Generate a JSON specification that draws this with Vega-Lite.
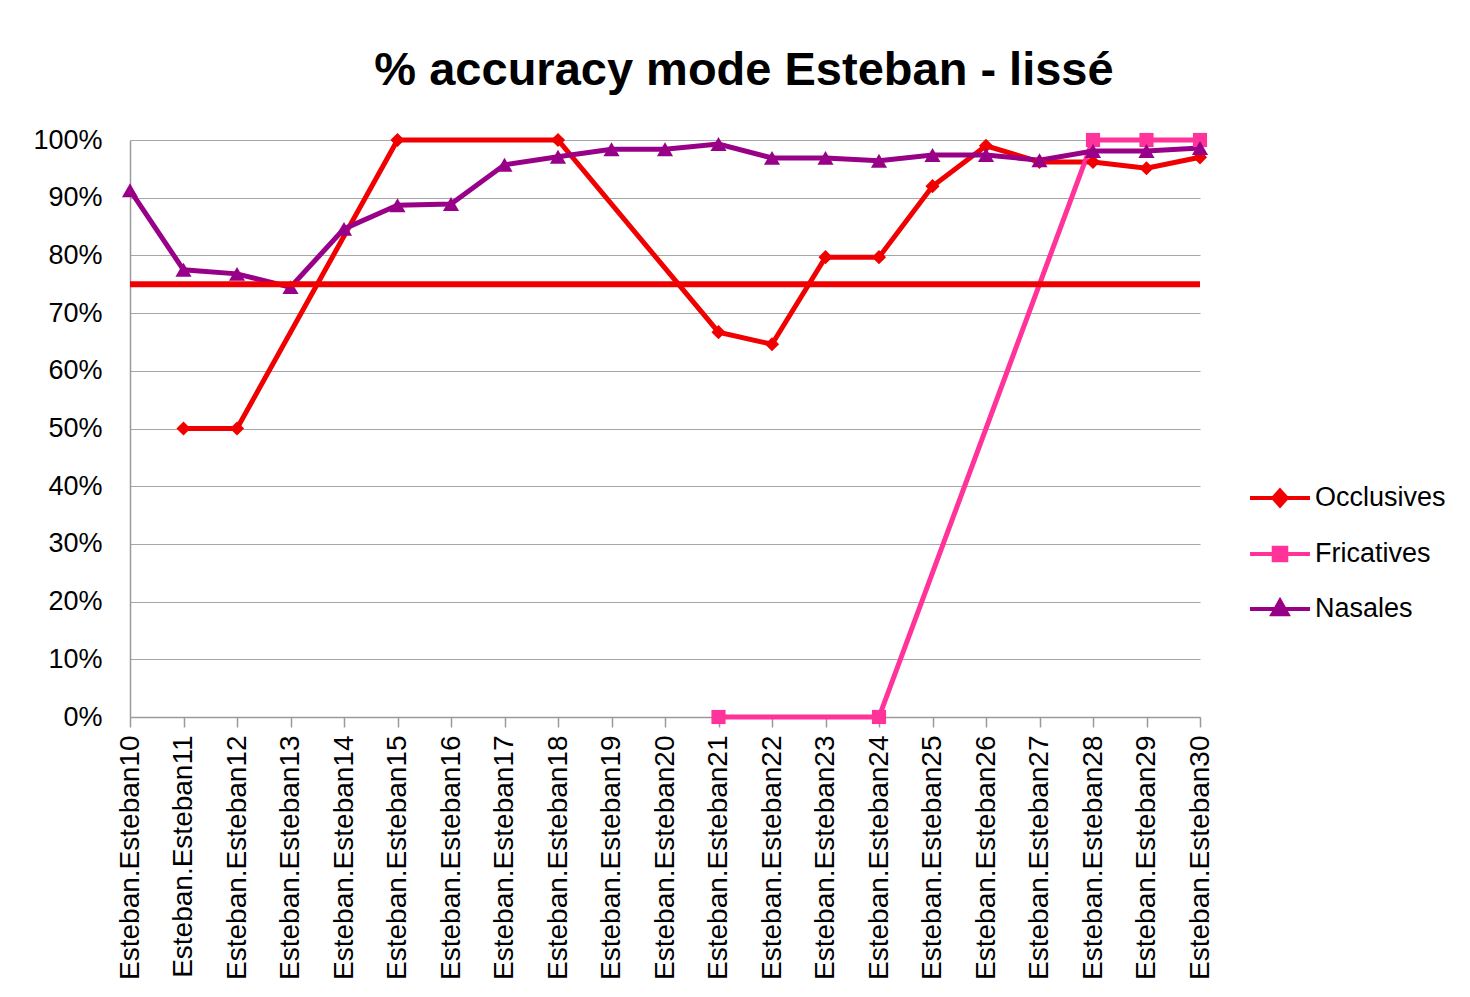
{
  "$schema": "https://vega.github.io/schema/vega-lite/v6.json",
  "width": 1070,
  "height": 577,
  "autosize": {"type": "none"},
  "padding": {"left": 130, "top": 140, "right": 270, "bottom": 280},
  "background": "white",
  "title": {
    "text": "% accuracy  mode Esteban - lissé",
    "font": "Liberation Sans",
    "fontSize": 47,
    "fontWeight": "bold",
    "color": "#000000",
    "anchor": "middle",
    "dx": 79,
    "baseline": "alphabetic",
    "offset": -6
  },
  "config": {
    "view": {"stroke": null},
    "axis": {
      "labelFont": "Liberation Sans",
      "labelFontSize": 27,
      "labelColor": "#000000",
      "domainColor": "#9a9a9a",
      "tickColor": "#9a9a9a",
      "gridColor": "#a6a6a6",
      "labelLimit": 0,
      "labelOverlap": false,
      "title": null
    }
  },
  "datasets": {
    "series": [
      {"s": "Esteban.Esteban11", "series": "Occlusives", "v": 0.50},
      {"s": "Esteban.Esteban12", "series": "Occlusives", "v": 0.50},
      {"s": "Esteban.Esteban15", "series": "Occlusives", "v": 1.00},
      {"s": "Esteban.Esteban18", "series": "Occlusives", "v": 1.00},
      {"s": "Esteban.Esteban21", "series": "Occlusives", "v": 0.667},
      {"s": "Esteban.Esteban22", "series": "Occlusives", "v": 0.646},
      {"s": "Esteban.Esteban23", "series": "Occlusives", "v": 0.797},
      {"s": "Esteban.Esteban24", "series": "Occlusives", "v": 0.797},
      {"s": "Esteban.Esteban25", "series": "Occlusives", "v": 0.92},
      {"s": "Esteban.Esteban26", "series": "Occlusives", "v": 0.99},
      {"s": "Esteban.Esteban27", "series": "Occlusives", "v": 0.962},
      {"s": "Esteban.Esteban28", "series": "Occlusives", "v": 0.962},
      {"s": "Esteban.Esteban29", "series": "Occlusives", "v": 0.951},
      {"s": "Esteban.Esteban30", "series": "Occlusives", "v": 0.970},
      {"s": "Esteban.Esteban21", "series": "Fricatives", "v": 0.0},
      {"s": "Esteban.Esteban24", "series": "Fricatives", "v": 0.0},
      {"s": "Esteban.Esteban28", "series": "Fricatives", "v": 1.0},
      {"s": "Esteban.Esteban29", "series": "Fricatives", "v": 1.0},
      {"s": "Esteban.Esteban30", "series": "Fricatives", "v": 1.0},
      {"s": "Esteban.Esteban10", "series": "Nasales", "v": 0.913},
      {"s": "Esteban.Esteban11", "series": "Nasales", "v": 0.775},
      {"s": "Esteban.Esteban12", "series": "Nasales", "v": 0.768},
      {"s": "Esteban.Esteban13", "series": "Nasales", "v": 0.745},
      {"s": "Esteban.Esteban14", "series": "Nasales", "v": 0.846},
      {"s": "Esteban.Esteban15", "series": "Nasales", "v": 0.887},
      {"s": "Esteban.Esteban16", "series": "Nasales", "v": 0.889},
      {"s": "Esteban.Esteban17", "series": "Nasales", "v": 0.957},
      {"s": "Esteban.Esteban18", "series": "Nasales", "v": 0.971},
      {"s": "Esteban.Esteban19", "series": "Nasales", "v": 0.984},
      {"s": "Esteban.Esteban20", "series": "Nasales", "v": 0.984},
      {"s": "Esteban.Esteban21", "series": "Nasales", "v": 0.993},
      {"s": "Esteban.Esteban22", "series": "Nasales", "v": 0.969},
      {"s": "Esteban.Esteban23", "series": "Nasales", "v": 0.969},
      {"s": "Esteban.Esteban24", "series": "Nasales", "v": 0.964},
      {"s": "Esteban.Esteban25", "series": "Nasales", "v": 0.974},
      {"s": "Esteban.Esteban26", "series": "Nasales", "v": 0.974},
      {"s": "Esteban.Esteban27", "series": "Nasales", "v": 0.965},
      {"s": "Esteban.Esteban28", "series": "Nasales", "v": 0.981},
      {"s": "Esteban.Esteban29", "series": "Nasales", "v": 0.981},
      {"s": "Esteban.Esteban30", "series": "Nasales", "v": 0.986}
    ],
    "threshold": [{"v": 0.75}]
  },
  "layer": [
    {
      "data": {"name": "series"},
      "mark": {"type": "line", "strokeWidth": 5},
      "encoding": {
        "x": {
          "field": "s",
          "type": "ordinal",
          "scale": {"type": "point", "padding": 0, "domain": ["Esteban.Esteban10","Esteban.Esteban11","Esteban.Esteban12","Esteban.Esteban13","Esteban.Esteban14","Esteban.Esteban15","Esteban.Esteban16","Esteban.Esteban17","Esteban.Esteban18","Esteban.Esteban19","Esteban.Esteban20","Esteban.Esteban21","Esteban.Esteban22","Esteban.Esteban23","Esteban.Esteban24","Esteban.Esteban25","Esteban.Esteban26","Esteban.Esteban27","Esteban.Esteban28","Esteban.Esteban29","Esteban.Esteban30"]},
          "axis": {"labelAngle": -90, "labelFontSize": 28, "tickSize": 10, "labelPadding": 8, "grid": false, "domainWidth": 1.5, "tickWidth": 1.5}
        },
        "y": {
          "field": "v",
          "type": "quantitative",
          "scale": {"domain": [0, 1], "nice": false, "zero": true},
          "axis": {"format": ".0%", "values": [0,0.1,0.2,0.3,0.4,0.5,0.6,0.7,0.8,0.9,1.0], "ticks": false, "labelPadding": 28, "grid": true, "gridWidth": 1.2, "domainWidth": 1.5}
        },
        "color": {
          "field": "series",
          "type": "nominal",
          "scale": {"domain": ["Occlusives", "Fricatives", "Nasales"], "range": ["#F00000", "#FF3399", "#990088"]},
          "sort": ["Occlusives", "Fricatives", "Nasales"],
          "legend": {
            "orient": "none",
            "legendX": 1133,
            "legendY": 341,
            "title": null,
            "labelFont": "Liberation Sans",
            "labelFontSize": 27,
            "labelColor": "#000000",
            "symbolSize": 900,
            "symbolStrokeWidth": 4,
            "labelOffset": 18,
            "rowPadding": 23,
            "encode": {
              "symbols": {
                "update": {
                  "shape": {"signal": "datum.value === 'Occlusives' ? 'M-2,0H2M0,-0.5L0.45,0L0,0.5L-0.45,0Z' : datum.value === 'Fricatives' ? 'M-2,0H2M-0.42,-0.42H0.42V0.42H-0.42Z' : 'M-2,0H2M0,-0.55L0.5,0.35L-0.5,0.35Z'"},
                  "fill": {"scale": "color", "field": "value"},
                  "stroke": {"scale": "color", "field": "value"},
                  "strokeWidth": {"value": 4},
                  "opacity": {"value": 1}
                }
              }
            }
          }
        }
      }
    },
    {
      "data": {"name": "series"},
      "transform": [{"filter": "datum.series === 'Occlusives'"}],
      "mark": {"type": "point", "filled": true, "opacity": 1, "shape": "diamond", "size": 200},
      "encoding": {
        "x": {"field": "s", "type": "ordinal"},
        "y": {"field": "v", "type": "quantitative"},
        "color": {"field": "series", "type": "nominal"}
      }
    },
    {
      "data": {"name": "series"},
      "transform": [{"filter": "datum.series === 'Fricatives'"}],
      "mark": {"type": "point", "filled": true, "opacity": 1, "shape": "square", "size": 200},
      "encoding": {
        "x": {"field": "s", "type": "ordinal"},
        "y": {"field": "v", "type": "quantitative"},
        "color": {"field": "series", "type": "nominal"}
      }
    },
    {
      "data": {"name": "series"},
      "transform": [{"filter": "datum.series === 'Nasales'"}],
      "mark": {"type": "point", "filled": true, "opacity": 1, "shape": "triangle-up", "size": 260},
      "encoding": {
        "x": {"field": "s", "type": "ordinal"},
        "y": {"field": "v", "type": "quantitative"},
        "color": {"field": "series", "type": "nominal"}
      }
    },
    {
      "data": {"name": "threshold"},
      "mark": {"type": "rule", "color": "#F00000", "strokeWidth": 6},
      "encoding": {
        "y": {"field": "v", "type": "quantitative"}
      }
    }
  ]
}
